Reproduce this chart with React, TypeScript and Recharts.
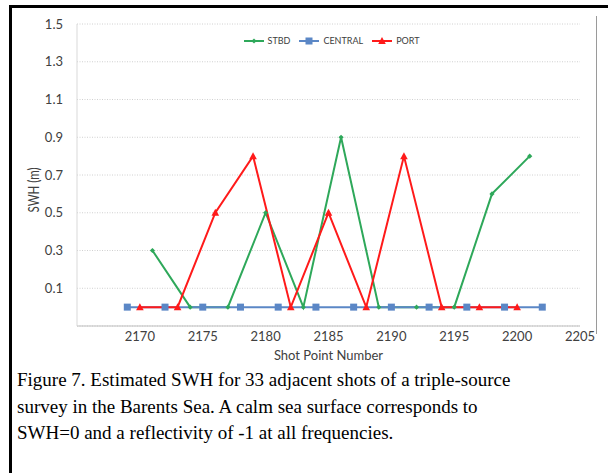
import React from 'react';
import {
  LineChart,
  Line,
  XAxis,
  YAxis,
  CartesianGrid,
  Legend
} from 'recharts';

// shot point numbers per source (they fire in turn, so each has its own x)
const stbdShots = [2171, 2174, 2177, 2180, 2183, 2186, 2189, 2192, 2195, 2198, 2201];
const stbdSwh = [0.3, 0, 0, 0.5, 0, 0.9, 0, 0, 0, 0.6, 0.8];

const centralShots = [2169, 2172, 2175, 2178, 2181, 2184, 2187, 2190, 2193, 2196, 2199, 2202];
const centralSwh = [0, 0, 0, 0, 0, 0, 0, 0, 0, 0, 0, 0];

const portShots = [2170, 2173, 2176, 2179, 2182, 2185, 2188, 2191, 2194, 2197, 2200];
const portSwh = [0, 0, 0.5, 0.8, 0, 0.5, 0, 0.8, 0, 0, 0];

const xTicks = [2170, 2175, 2180, 2185, 2190, 2195, 2200, 2205];
const yTicks = [0.1, 0.3, 0.5, 0.7, 0.9, 1.1, 1.3, 1.5];

const GREEN = '#2ea85a';
const BLUE = '#5b87c6';
const RED = '#ff1a1a';

const toPoints = (xs: number[], ys: number[]) => xs.map((x, i) => ({ shot: x, swh: ys[i] }));

const stbdData = toPoints(stbdShots, stbdSwh);
const centralData = toPoints(centralShots, centralSwh);
const portData = toPoints(portShots, portSwh);

const chartFont = 'Lato, "Open Sans", sans-serif';

const Diamond = ({ cx, cy, fill }: any) => {
  if (cx == null || cy == null) return null;
  const r = 2.6;
  return <path d={`M${cx},${cy - r}L${cx + r},${cy}L${cx},${cy + r}L${cx - r},${cy}Z`} fill={fill} />;
};

const Square = ({ cx, cy, fill }: any) => {
  if (cx == null || cy == null) return null;
  return <rect x={cx - 3.5} y={cy - 3.5} width={7} height={7} fill={fill} />;
};

const Triangle = ({ cx, cy, fill }: any) => {
  if (cx == null || cy == null) return null;
  return <path d={`M${cx},${cy - 4}L${cx + 3.8},${cy + 3}L${cx - 3.8},${cy + 3}Z`} fill={fill} />;
};

const legendItems = [
  { name: 'STBD', color: GREEN, Marker: Diamond },
  { name: 'CENTRAL', color: BLUE, Marker: Square },
  { name: 'PORT', color: RED, Marker: Triangle }
];

const CustomLegend = () => (
  <div
    style={{
      display: 'flex',
      justifyContent: 'center',
      paddingLeft: 64,
      fontFamily: chartFont,
      fontSize: 9,
      color: '#404040'
    }}
  >
    {legendItems.map(({ name, color, Marker }) => (
      <div key={name} style={{ display: 'flex', alignItems: 'center', marginRight: 9 }}>
        <svg width={20} height={10} style={{ marginRight: 4 }}>
          <line x1={0} y1={5} x2={20} y2={5} stroke={color} strokeWidth={2} />
          <Marker cx={10} cy={5} fill={color} />
        </svg>
        <span>{name}</span>
      </div>
    ))}
  </div>
);

const YTitle = ({ viewBox }: any) => {
  const x = viewBox.x + 33;
  const y = viewBox.y + viewBox.height / 2 + 15;
  return (
    <text
      x={x}
      y={y}
      transform={`rotate(-90, ${x}, ${y})`}
      textAnchor="middle"
      dominantBaseline="central"
      fill="#404040"
      fontFamily={chartFont}
      fontSize={15.5}
      textLength={45}
      lengthAdjust="spacingAndGlyphs"
    >
      SWH (m)
    </text>
  );
};

export default function App() {
  return (
    <div
      style={{
        position: 'absolute',
        left: 0,
        top: 0,
        width: 608,
        height: 473,
        overflow: 'hidden',
        background: '#fff'
      }}
    >
      {/* figure frame, only top and left edges are in view */}
      <div
        style={{
          position: 'absolute',
          left: 9,
          top: 5,
          width: 700,
          height: 600,
          borderTop: '3px solid #000',
          borderLeft: '3px solid #000'
        }}
      />
      <div
        style={{
          position: 'absolute',
          left: 596,
          top: 16,
          width: 0,
          height: 318,
          borderLeft: '1px solid #9a9a9a'
        }}
      />
      <div style={{ position: 'absolute', left: 0, top: 0 }}>
        <LineChart
          width={608}
          height={370}
          margin={{ top: 24, right: 28, bottom: 0, left: 0 }}
        >
          <CartesianGrid
            horizontal
            vertical={false}
            stroke="#d0d0d0"
            strokeDasharray="1 1.5"
          />
          <XAxis
            dataKey="shot"
            type="number"
            domain={[2165, 2205]}
            ticks={xTicks}
            allowDuplicatedCategory={false}
            height={44}
            tickLine={false}
            tickSize={6}
            tickMargin={0}
            axisLine={{ stroke: '#bfbfbf' }}
            tick={{ fill: '#404040', fontSize: 13, fontFamily: chartFont }}
            label={{
              value: 'Shot Point Number',
              position: 'insideBottom',
              offset: 10,
              fill: '#404040',
              fontSize: 13,
              fontFamily: chartFont
            }}
          />
          <YAxis
            type="number"
            domain={[-0.1, 1.5]}
            ticks={yTicks}
            width={77}
            tickLine={false}
            tickSize={6}
            tickMargin={8}
            axisLine={{ stroke: '#d9d9d9' }}
            tickFormatter={(v: number) => v.toFixed(1)}
            tick={{ fill: '#404040', fontSize: 13, fontFamily: chartFont }}
            label={<YTitle />}
          />
          <Legend
            verticalAlign="middle"
            align="center"
            wrapperStyle={{ top: 35, left: 0, width: 608 }}
            content={<CustomLegend />}
          />
          <Line
            data={stbdData}
            dataKey="swh"
            name="STBD"
            stroke={GREEN}
            strokeWidth={2}
            dot={<Diamond fill={GREEN} />}
            activeDot={false}
            isAnimationActive={false}
          />
          <Line
            data={centralData}
            dataKey="swh"
            name="CENTRAL"
            stroke={BLUE}
            strokeWidth={2}
            dot={<Square fill={BLUE} />}
            activeDot={false}
            isAnimationActive={false}
          />
          <Line
            data={portData}
            dataKey="swh"
            name="PORT"
            stroke={RED}
            strokeWidth={2}
            dot={<Triangle fill={RED} />}
            activeDot={false}
            isAnimationActive={false}
          />
        </LineChart>
      </div>
      <div
        style={{
          position: 'absolute',
          left: 17,
          top: 367,
          width: 580,
          fontFamily: '"Liberation Serif", "Times New Roman", serif',
          fontSize: 19,
          lineHeight: '26.5px',
          color: '#000'
        }}
      >
        Figure 7. Estimated SWH for 33 adjacent shots of a triple-source
        <br />
        survey in the Barents Sea. A calm sea surface corresponds to
        <br />
        SWH=0 and a reflectivity of -1 at all frequencies.
      </div>
    </div>
  );
}
